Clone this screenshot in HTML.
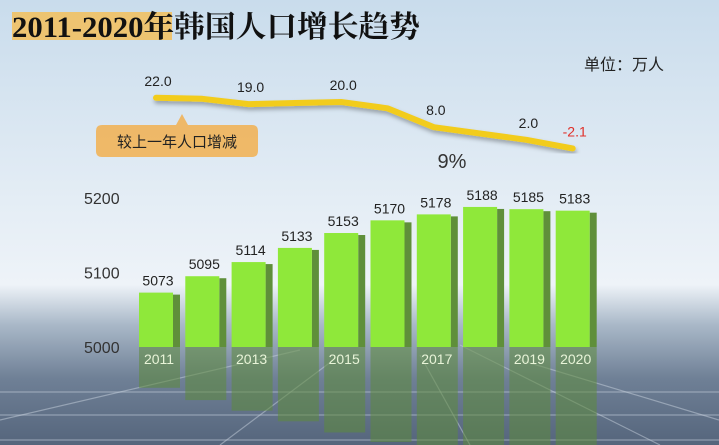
<!DOCTYPE html>
<html><head><meta charset="utf-8"><style>
body{margin:0;width:719px;height:445px;overflow:hidden;font-family:"Liberation Sans","Noto Sans CJK SC",sans-serif}
svg{display:block}
</style></head><body>
<svg id="chart" width="719" height="445" viewBox="0 0 719 445">
<defs>
<linearGradient id="bg" x1="0" y1="0" x2="0" y2="1">
<stop offset="0" stop-color="#c9dcec"/><stop offset="0.45" stop-color="#e4edf5"/><stop offset="0.64" stop-color="#eef3f8"/>
<stop offset="0.73" stop-color="#a9b8c8"/><stop offset="0.85" stop-color="#6f8096"/><stop offset="1" stop-color="#55657c"/>
</linearGradient>
<filter id="sh"><feDropShadow dx="1" dy="3" stdDeviation="2" flood-color="#000" flood-opacity="0.3"/></filter>
</defs>
<rect width="719" height="445" fill="url(#bg)"/>
<g id="grid" stroke="#c8d2de" stroke-opacity="0.5" stroke-width="1.2">
<line x1="0" y1="392" x2="719" y2="392"/><line x1="0" y1="415" x2="719" y2="415"/><line x1="0" y1="440" x2="719" y2="440"/>
<line x1="340" y1="355" x2="220" y2="445"/><line x1="420" y1="355" x2="470" y2="445"/><line x1="460" y1="345" x2="660" y2="445"/>
<line x1="0" y1="420" x2="300" y2="350"/><line x1="520" y1="360" x2="719" y2="420"/>
</g>
<rect x="12" y="12" width="160" height="28" fill="#f3c05a" opacity="0.85"/>
<text x="12" y="37" textLength="408" lengthAdjust="spacingAndGlyphs" font-family="'Liberation Serif','Noto Serif CJK SC',serif" font-weight="bold" font-size="30" fill="#111">2011-2020年韩国人口增长趋势</text>
<text x="584" y="70" font-size="16" fill="#222">单位：万人</text>
<g id="bars"></g>
<g id="line"></g>
<g>
<path d="M102 125 H176 L182 114 L188 125 H252 Q258 125 258 131 V151 Q258 157 252 157 H102 Q96 157 96 151 V131 Q96 125 102 125Z" fill="#f0b45c" opacity="0.92"/>
<text x="177" y="147" text-anchor="middle" font-size="15" fill="#222">较上一年人口增减</text>
</g>
<text x="452" y="168" text-anchor="middle" font-size="20" fill="#333">9%</text>
</svg>
<script>
const years=["2011","2012","2013","2014","2015","2016","2017","2018","2019","2020"];
const population=[5073,5095,5114,5133,5153,5170,5178,5188,5185,5183];
const growth=[22.0,21.5,19.0,19.5,20.0,17.0,8.0,5.0,2.0,-2.1];
const growthLabels=["22.0","","19.0","","20.0","","8.0","","2.0","-2.1"];
const yTicks=[5000,5100,5200];
const yearLabels=["2011","","2013","","2015","","2017","","2019","2020"];
const NS="http://www.w3.org/2000/svg";
const xC=i=>156+i*46.3;
const yP=v=>347-(v-5000)*0.745;
const yG=v=>144-2.1*v;
function mk(t,a,p){const e=document.createElementNS(NS,t);for(const k in a)e.setAttribute(k,a[k]);p.appendChild(e);return e;}
const bars=document.getElementById('bars');
yTicks.forEach(t=>{const e=mk('text',{x:84,y:yP(t)+6,'font-size':16,fill:'#333'},bars);e.textContent=t;

});
population.forEach((v,i)=>{
const x=xC(i)-17,top=yP(v),h=347-top;
const g=mk('g',{},bars);


mk('rect',{x:x+34,y:top+2,width:7,height:h-2,fill:'#5f8f3a'},g);
mk('rect',{x:x,y:top,width:34,height:h,fill:'#8fe83a'},g);
mk('rect',{x:x,y:347,width:41,height:Math.min(h*0.75,445-347),fill:'#5d8a3a',opacity:0.55},g);
const t=mk('text',{x:xC(i)+2,y:top-7,'text-anchor':'middle','font-size':14,fill:'#222'},g);t.textContent=v;
if(yearLabels[i]){const y=mk('text',{x:xC(i)+3,y:364,'text-anchor':'middle','font-size':14,fill:'#e8f4d8'},g);y.textContent=yearLabels[i];}
});
const lg=document.getElementById('line');
let d=growth.map((v,i)=>(i?'L':'M')+xC(i).toFixed(1)+' '+yG(v).toFixed(1)).join(' ');
const p=mk('path',{d:d,fill:'none',stroke:'#f2cc1e','stroke-width':6,'stroke-linejoin':'round','stroke-linecap':'round',filter:'url(#sh)'},lg);


growth.forEach((v,i)=>{if(!growthLabels[i])return;
const t=mk('text',{x:xC(i)+2,y:yG(v)-12,'text-anchor':'middle','font-size':14,fill:v<0?'#e0302a':'#222'},lg);t.textContent=growthLabels[i];

});
</script>
</body></html>
